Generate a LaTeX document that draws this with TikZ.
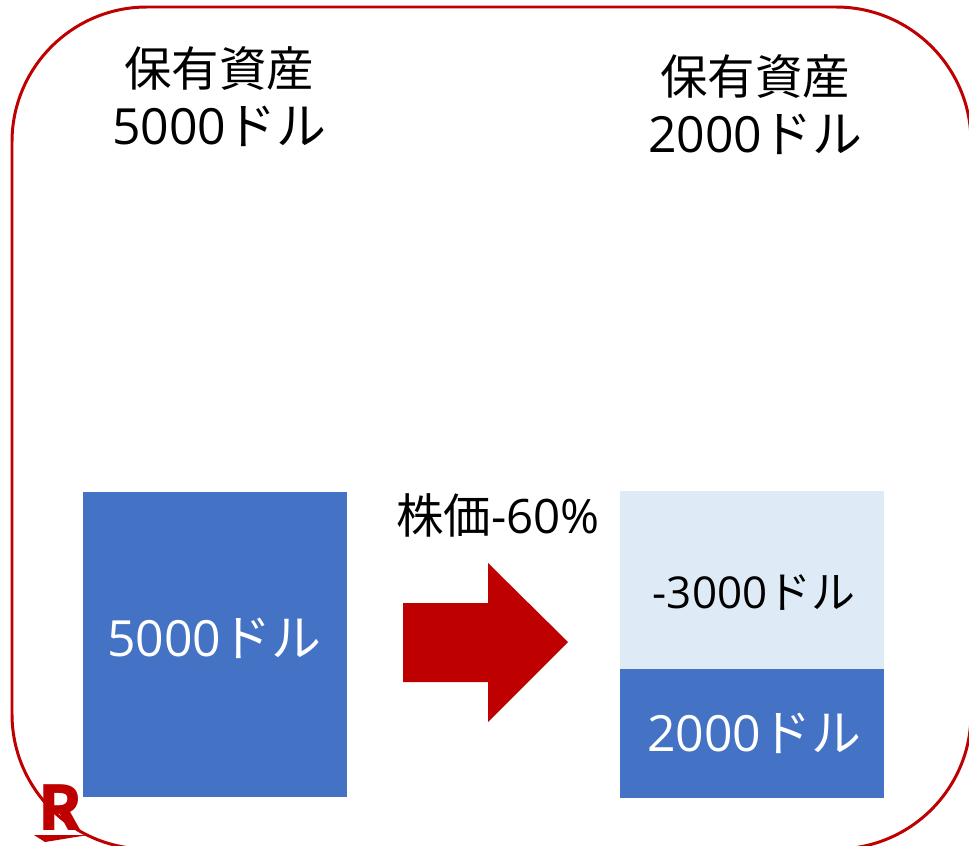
\documentclass[tikz,border=0pt]{standalone}
\usepackage{fontspec}
\setmainfont{Noto Sans CJK JP}
\newfontfamily\lat{Open Sans}
\usepackage{xcolor}
\definecolor{rk}{HTML}{BF0000}
\definecolor{bl}{HTML}{4472C4}
\definecolor{lb}{HTML}{DEEAF6}
\newcommand{\amt}{\fontsize{28.4pt}{33pt}\selectfont}
\tikzset{x=0.02cm,y=-0.02cm,
 labx/.style={align=center,font=\fontsize{27pt}{33pt}\selectfont,inner sep=0pt},
 barbox/.style={minimum width=5.28cm,inner sep=0pt}}
\begin{document}
\begin{tikzpicture}
\useasboundingbox (0,0) rectangle (969,845);
\clip (0,0) rectangle (969,845);
\draw[rk,line width=1.7pt,rounded corners=2.7cm] (12,7) rectangle (971,849);
\node[barbox,fill=bl,minimum height=6.1cm] (a) at (215,644.5) {};
\node[barbox,fill=lb,minimum height=3.56cm] (b) at (752,580) {};
\node[barbox,fill=bl,minimum height=2.58cm] (c) at (752,733) {};
\fill[rk] (403,603) -- (488,603) -- (488,563) -- (568,642) -- (488,722) -- (488,682) -- (403,682) -- cycle;
\node[labx] (t1) at (219,97) {保有資産\\{\amt{\lat 5000}ドル}};
\node[labx] (t2) at (755,105) {保有資産\\{\amt{\lat 2000}ドル}};
\node[labx,text=white] (t3) at (214,638) {\amt{\lat 5000}ドル};
\node[labx,text=white] (t4) at (754,733) {\amt{\lat 2000}ドル};
\node[labx,font=\fontsize{25pt}{33pt}\selectfont] (t5) at (754,593) {{\lat -3000}ドル};
\node[labx] (t6) at (498,515) {株価{\lat -60\%}};
\fill[rk] (34,835) -- (88,835) -- (45,842) -- cycle;
\node[font=\fontsize{35pt}{35pt}\selectfont\bfseries,text=rk,inner sep=0pt,anchor=base] (r) at (60.5,830) {R};
\end{tikzpicture}
\end{document}
